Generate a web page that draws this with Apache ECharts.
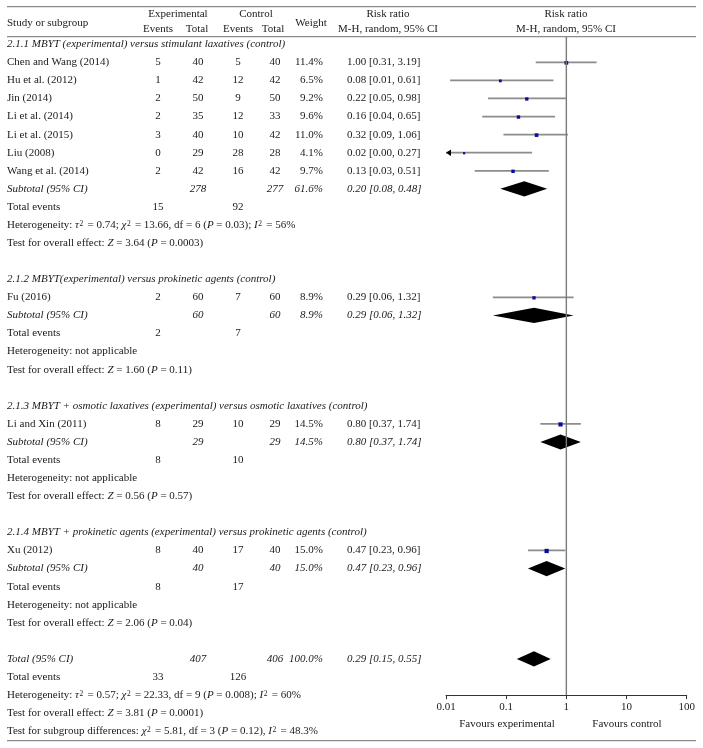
<!DOCTYPE html>
<html><head><meta charset="utf-8">
<script src="https://cdn.jsdelivr.net/npm/echarts@6/dist/echarts.min.js"></script>
<style>html,body{margin:0;padding:0;background:#fff}#c{width:703px;height:748px}</style>
</head><body><div id="c"></div>
<script>
// ---------------- DATA ----------------
const studyNames = ["Chen and Wang (2014)", "Hu et al. (2012)", "Jin (2014)", "Li et al. (2014)", "Li et al. (2015)", "Liu (2008)", "Wang et al. (2014)", "Fu (2016)", "Li and Xin (2011)", "Xu (2012)"];
const studyRows = [1, 2, 3, 4, 5, 6, 7, 14, 21, 28];
const expEvents = [5, 1, 2, 2, 3, 0, 2, 2, 8, 8];
const expTotal = [40, 42, 50, 35, 40, 29, 42, 60, 29, 40];
const ctlEvents = [5, 12, 9, 12, 10, 28, 16, 7, 10, 17];
const ctlTotal = [40, 42, 50, 33, 42, 28, 42, 60, 29, 40];
const weights = [11.4, 6.5, 9.2, 9.6, 11.0, 4.1, 9.7, 8.9, 14.5, 15.0];
const riskRatio = [1.00, 0.08, 0.22, 0.16, 0.32, 0.02, 0.13, 0.29, 0.80, 0.47];
const ciLow = [0.31, 0.0117, 0.05, 0.04, 0.09, 0.00, 0.03, 0.06, 0.37, 0.23];
const ciHigh = [3.19, 0.61, 0.98, 0.65, 1.06, 0.27, 0.51, 1.32, 1.74, 0.96];

const subgroupTitles = [
  "2.1.1 MBYT (experimental) versus stimulant laxatives (control)",
  "2.1.2 MBYT(experimental) versus prokinetic agents (control)",
  "2.1.3 MBYT + osmotic laxatives (experimental) versus osmotic laxatives (control)",
  "2.1.4 MBYT + prokinetic agents (experimental) versus prokinetic agents (control)"
];
const subgroupRows = [0, 13, 20, 27];
const subtotalRows = [8, 15, 22, 29];
const subExpTotal = [278, 60, 29, 40];
const subCtlTotal = [277, 60, 29, 40];
const subExpEvents = [15, 2, 8, 8];
const subCtlEvents = [92, 7, 10, 17];
const subWeight = [61.6, 8.9, 14.5, 15.0];
const subRR = [0.20, 0.29, 0.80, 0.47];
const subLow = [0.08, 0.06, 0.37, 0.23];
const subHigh = [0.48, 1.32, 1.74, 0.96];
const subHeterogeneity = [
  "{i|τ}{s|2} = 0.74; {i|χ}{s|2} = 13.66, df = 6 ({i|P} = 0.03); {i|I}{s|2} = 56%",
  "not applicable", "not applicable", "not applicable"
];
const subOverall = ["3.64 ({i|P} = 0.0003)", "1.60 ({i|P} = 0.11)", "0.56 ({i|P} = 0.57)", "2.06 ({i|P} = 0.04)"];

const totalRow = 34;
const totalExp = 407, totalCtl = 406, totalWeight = 100.0;
const totalRR = 0.29, totalLow = 0.15, totalHigh = 0.55;
const totalExpEvents = 33, totalCtlEvents = 126;
const totalHeterogeneity = "{i|τ}{s|2} = 0.57; {i|χ}{s|2} = 22.33, df = 9 ({i|P} = 0.008); {i|I}{s|2} = 60%";
const totalOverall = "3.81 ({i|P} = 0.0001)";
const subgroupDiff = "{i|χ}{s|2} = 5.81, df = 3 ({i|P} = 0.12), {i|I}{s|2} = 48.3%";

const axisTicks = [0.01, 0.1, 1, 10, 100];
const favourLabels = ["Favours experimental", "Favours control"];

// ---------------- LAYOUT ----------------
const FAM = '"Liberation Serif", "Times New Roman", serif';
const PX = 18.08;
const TXT = '#1a1a1a';
const X = { label: 7, ee: 158, et: 198, ce: 238, ct: 275, w: 323, rr: 347, plot: 566 };

const cells = [];
function cell(row, x, text, align, italic) { cells.push({ row, x, text, align: align || 'left', italic: !!italic }); }
const f2 = v => v.toFixed(2);
const rrText = (r, l, h) => f2(r) + ' [' + f2(l) + ', ' + f2(h) + ']';

// header
cell(-1.19, X.label, 'Study or subgroup');
cell(-1.64, 178, 'Experimental', 'center');
cell(-0.81, 158, 'Events', 'center'); cell(-0.81, 197, 'Total', 'center');
cell(-1.64, 256, 'Control', 'center');
cell(-0.81, 238, 'Events', 'center'); cell(-0.81, 273, 'Total', 'center');
cell(-1.19, 311, 'Weight', 'center');
cell(-1.64, 388, 'Risk ratio', 'center'); cell(-0.81, 388, 'M-H, random, 95% CI', 'center');
cell(-1.64, X.plot, 'Risk ratio', 'center'); cell(-0.81, X.plot, 'M-H, random, 95% CI', 'center');

studyNames.forEach((n, i) => {
  const r = studyRows[i];
  cell(r, X.label, n);
  cell(r, X.ee, String(expEvents[i]), 'center');
  cell(r, X.et, String(expTotal[i]), 'center');
  cell(r, X.ce, String(ctlEvents[i]), 'center');
  cell(r, X.ct, String(ctlTotal[i]), 'center');
  cell(r, X.w, weights[i].toFixed(1) + '%', 'right');
  cell(r, X.rr, rrText(riskRatio[i], ciLow[i], ciHigh[i]));
});
subgroupTitles.forEach((t, g) => {
  cell(subgroupRows[g], X.label, t, 'left', true);
  const s = subtotalRows[g];
  cell(s, X.label, 'Subtotal (95% CI)', 'left', true);
  cell(s, X.et, String(subExpTotal[g]), 'center', true);
  cell(s, X.ct, String(subCtlTotal[g]), 'center', true);
  cell(s, X.w, subWeight[g].toFixed(1) + '%', 'right', true);
  cell(s, X.rr, rrText(subRR[g], subLow[g], subHigh[g]), 'left', true);
  cell(s + 1, X.label, 'Total events');
  cell(s + 1, X.ee, String(subExpEvents[g]), 'center');
  cell(s + 1, X.ce, String(subCtlEvents[g]), 'center');
  cell(s + 2, X.label, 'Heterogeneity: ' + subHeterogeneity[g]);
  cell(s + 3, X.label, 'Test for overall effect: {i|Z} = ' + subOverall[g]);
});
cell(totalRow, X.label, 'Total (95% CI)', 'left', true);
cell(totalRow, X.et, String(totalExp), 'center', true);
cell(totalRow, X.ct, String(totalCtl), 'center', true);
cell(totalRow, X.w, totalWeight.toFixed(1) + '%', 'right', true);
cell(totalRow, X.rr, rrText(totalRR, totalLow, totalHigh), 'left', true);
cell(totalRow + 1, X.label, 'Total events');
cell(totalRow + 1, X.ee, String(totalExpEvents), 'center');
cell(totalRow + 1, X.ce, String(totalCtlEvents), 'center');
cell(totalRow + 2, X.label, 'Heterogeneity: ' + totalHeterogeneity);
cell(totalRow + 3, X.label, 'Test for overall effect: {i|Z} = ' + totalOverall);
cell(totalRow + 4, X.label, 'Test for subgroup differences: ' + subgroupDiff);
cell(37.6, 507, favourLabels[0], 'center');
cell(37.6, 627, favourLabels[1], 'center');

const richStyle = {
  i: { fontStyle: 'italic', fontSize: 11, fontFamily: FAM, fill: TXT, verticalAlign: 'middle' },
  s: { fontSize: 7.5, fontFamily: FAM, fill: TXT, verticalAlign: 'top', padding: [0, 1.5, 0, 0.5] }
};

const studyData = studyNames.map((n, i) => [riskRatio[i], ciLow[i], ciHigh[i], studyRows[i], weights[i]]);
const diamondData = subtotalRows.map((r, g) => [subRR[g], subLow[g], subHigh[g], r])
  .concat([[totalRR, totalLow, totalHigh, totalRow]]);

const chart = echarts.init(document.getElementById('c'), null, { renderer: 'canvas' });
chart.setOption({
  backgroundColor: '#fff',
  animation: false,
  grid: [
    { left: 0, top: 37, width: 703, height: 38.9 * PX },
    { left: 446, top: 37, width: 240.7, height: 36.4 * PX }
  ],
  xAxis: [
    { gridIndex: 0, type: 'value', min: 0, max: 703, show: false },
    {
      gridIndex: 1, type: 'log', logBase: 10, min: axisTicks[0], max: axisTicks[axisTicks.length - 1],
      splitNumber: 4, position: 'bottom',
      axisLine: { show: true, onZero: false, lineStyle: { color: '#333', width: 1 } },
      axisTick: { show: true, inside: false, length: 4, lineStyle: { color: '#333', width: 1 } },
      axisLabel: { fontFamily: FAM, fontSize: 11, color: TXT, margin: 6,
        formatter: v => String(+(+v).toPrecision(1)) },
      splitLine: { show: false }, minorTick: { show: false }
    }
  ],
  yAxis: [
    { gridIndex: 0, type: 'value', min: -0.4, max: 38.5, inverse: true, show: false },
    { gridIndex: 1, type: 'value', min: -0.4, max: 36, inverse: true, show: false }
  ],
  graphic: [
    { type: 'line', shape: { x1: 7, y1: 6.7, x2: 696, y2: 6.7 }, style: { stroke: '#8a8a8a', lineWidth: 1.3 } },
    { type: 'line', shape: { x1: 7, y1: 36.7, x2: 696, y2: 36.7 }, style: { stroke: '#8a8a8a', lineWidth: 1.3 } },
    { type: 'line', shape: { x1: 7, y1: 740.7, x2: 696, y2: 740.7 }, style: { stroke: '#8a8a8a', lineWidth: 1.3 } }
  ],
  series: [
    {
      type: 'custom', name: 'text', xAxisIndex: 0, yAxisIndex: 0, silent: true,
      data: cells.map((c, i) => [c.x, c.row, i]),
      encode: { x: 0, y: 1 },
      renderItem: (params, api) => {
        const c = cells[api.value(2)];
        const p = api.coord([c.x, c.row]);
        return {
          type: 'text',
          style: {
            text: c.text, x: p[0], y: p[1], align: c.align, verticalAlign: 'middle',
            fontFamily: FAM, fontSize: 11, fontStyle: c.italic ? 'italic' : 'normal',
            fill: TXT, rich: richStyle
          }
        };
      }
    },
    {
      type: 'line', name: 'noeffect', xAxisIndex: 1, yAxisIndex: 1, silent: true,
      data: [[1, -0.4], [1, 36]], symbol: 'none',
      lineStyle: { color: '#7a7a7a', width: 1.4 }
    },
    {
      type: 'custom', name: 'studies', xAxisIndex: 1, yAxisIndex: 1, silent: true,
      data: studyData, encode: { x: 0, y: 3 },
      renderItem: (params, api) => {
        const rr = api.value(0), lo = api.value(1), hi = api.value(2), row = api.value(3), w = api.value(4);
        const minV = axisTicks[0];
        const pl = api.coord([Math.max(lo, minV), row]);
        const ph = api.coord([hi, row]);
        const pc = api.coord([rr, row]);
        const sz = Math.sqrt(w) * 1.1;
        const children = [
          { type: 'line', shape: { x1: pl[0], y1: pl[1], x2: ph[0], y2: ph[1] },
            style: { stroke: '#8c8c8c', lineWidth: 1.7 } },
          { type: 'rect', shape: { x: pc[0] - sz / 2, y: pc[1] - sz / 2 + 0.5, width: sz, height: sz },
            style: { fill: '#0c0c9c' } }
        ];
        if (lo < minV) {
          children.push({ type: 'polygon', shape: { points: [[pl[0], pl[1]], [pl[0] + 5, pl[1] - 3.2], [pl[0] + 5, pl[1] + 3.2]] },
            style: { fill: '#000' } });
        }
        return { type: 'group', children };
      }
    },
    {
      type: 'custom', name: 'diamonds', xAxisIndex: 1, yAxisIndex: 1, silent: true,
      data: diamondData, encode: { x: 0, y: 3 },
      renderItem: (params, api) => {
        const row = api.value(3);
        const pl = api.coord([api.value(1), row]);
        const ph = api.coord([api.value(2), row]);
        const pc = api.coord([api.value(0), row]);
        const hh = 7.6;
        return {
          type: 'polygon',
          shape: { points: [[pl[0], pl[1]], [pc[0], pc[1] - hh], [ph[0], ph[1]], [pc[0], pc[1] + hh]] },
          style: { fill: '#000' }
        };
      }
    }
  ]
});
</script>
</body></html>
